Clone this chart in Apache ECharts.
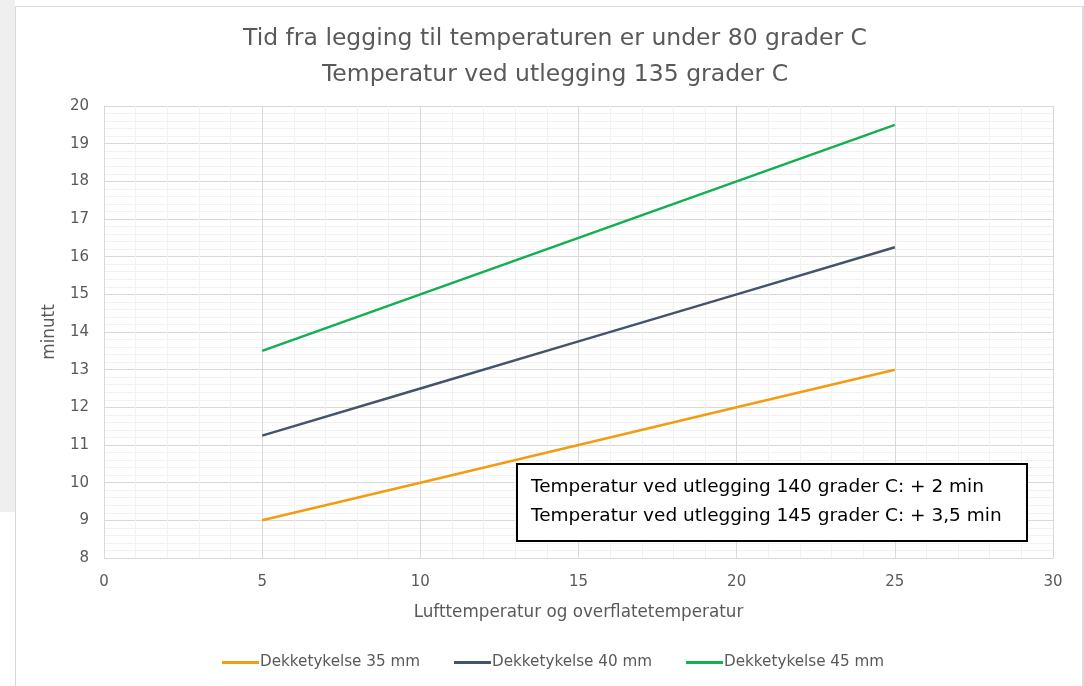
<!DOCTYPE html>
<html>
<head>
<meta charset="utf-8">
<script src="https://cdn.jsdelivr.net/npm/echarts@6/dist/echarts.min.js"></script>
<style>
  html, body { margin: 0; padding: 0; width: 1084px; height: 686px; overflow: hidden; background: #ffffff; }
  .strip { position: absolute; left: 0; top: 0; width: 15px; height: 512px; background: #efefef; }
  .frame { position: absolute; left: 15px; top: 6px; width: 1066px; height: 690px; border: 1px solid #d9d9d9; border-right-width: 2px; background: #fff; }
  #chart { position: absolute; left: 0; top: 0; width: 1084px; height: 686px; }
</style>
</head>
<body>
<div class="strip"></div>
<div class="frame"></div>
<div id="chart"></div>
<script>
// Lufttemperatur (x) og minutter for hver dekketykkelse
const airTemp = [5, 10, 15, 20, 25]
const seriesNames = ['Dekketykelse 35 mm', 'Dekketykelse 40 mm', 'Dekketykelse 45 mm']
const min35 = [9, 10, 11, 12, 13]
const min40 = [11.25, 12.5, 13.75, 15, 16.25]
const min45 = [13.5, 15, 16.5, 18, 19.5]
const colors = ['#F39C12', '#44546A', '#12B04F']
const noteLines = [
  'Temperatur ved utlegging 140 grader C: + 2 min',
  'Temperatur ved utlegging 145 grader C: + 3,5 min'
]

const font = 'DejaVu Sans'
const myChart = echarts.init(document.getElementById('chart'))

function pairs (ys) {
  return airTemp.map((x, i) => [x, ys[i]])
}

const option = {
  animation: false,
  textStyle: { fontFamily: font },
  title: {
    text: 'Tid fra legging til temperaturen er under 80 grader C\nTemperatur ved utlegging 135 grader C',
    left: 550,
    textAlign: 'center',
    top: 16,
    textStyle: {
      fontFamily: font,
      fontSize: 23.5,
      fontWeight: 'normal',
      color: '#595959',
      lineHeight: 36
    }
  },
  legend: {
    bottom: 11,
    left: 217,
    itemGap: 34,
    itemWidth: 37,
    itemHeight: 3,
    icon: 'rect',
    textStyle: { fontFamily: font, fontSize: 15.2, color: '#595959', padding: [0, 0, 0, -4] },
    data: seriesNames
  },
  grid: { left: 104, top: 106, right: 31, bottom: 128 },
  xAxis: {
    type: 'value',
    min: 0,
    max: 30,
    interval: 5,
    name: 'Lufttemperatur og overflatetemperatur',
    nameLocation: 'middle',
    nameGap: 46,
    nameTextStyle: { fontFamily: font, fontSize: 16.8, color: '#595959' },
    axisLine: { show: true, lineStyle: { color: '#d9d9d9', width: 1 } },
    axisTick: { show: false },
    axisLabel: { fontFamily: font, fontSize: 15, color: '#595959', margin: 17 },
    splitLine: { show: true, lineStyle: { color: '#d9d9d9', width: 1 } },
    minorTick: { show: false, splitNumber: 5 },
    minorSplitLine: { show: true, lineStyle: { color: '#f2f2f2', width: 1 } }
  },
  yAxis: {
    type: 'value',
    min: 8,
    max: 20,
    interval: 1,
    name: 'minutt',
    nameLocation: 'middle',
    nameGap: 46,
    nameRotate: 90,
    nameTextStyle: { fontFamily: font, fontSize: 16.8, color: '#595959' },
    axisLine: { show: true, lineStyle: { color: '#d9d9d9', width: 1 } },
    axisTick: { show: false },
    axisLabel: { fontFamily: font, fontSize: 15, color: '#595959', margin: 15 },
    splitLine: { show: true, lineStyle: { color: '#d9d9d9', width: 1 } },
    minorTick: { show: false, splitNumber: 5 },
    minorSplitLine: { show: true, lineStyle: { color: '#f2f2f2', width: 1 } }
  },
  graphic: [
    {
      type: 'rect',
      z: 100,
      shape: { x: 517, y: 464, width: 510, height: 77 },
      style: { fill: '#ffffff', stroke: '#000000', lineWidth: 2 }
    },
    {
      type: 'text',
      z: 101,
      x: 531,
      y: 478,
      style: { text: noteLines[0], font: '18.5px "DejaVu Sans"', fill: '#000000' }
    },
    {
      type: 'text',
      z: 101,
      x: 531,
      y: 507,
      style: { text: noteLines[1], font: '18.5px "DejaVu Sans"', fill: '#000000' }
    }
  ],
  series: [min35, min40, min45].map((ys, i) => ({
    name: seriesNames[i],
    type: 'line',
    data: pairs(ys),
    showSymbol: false,
    symbol: 'none',
    lineStyle: { width: 2.5, color: colors[i] },
    itemStyle: { color: colors[i] }
  }))
}

myChart.setOption(option)
</script>
</body>
</html>
